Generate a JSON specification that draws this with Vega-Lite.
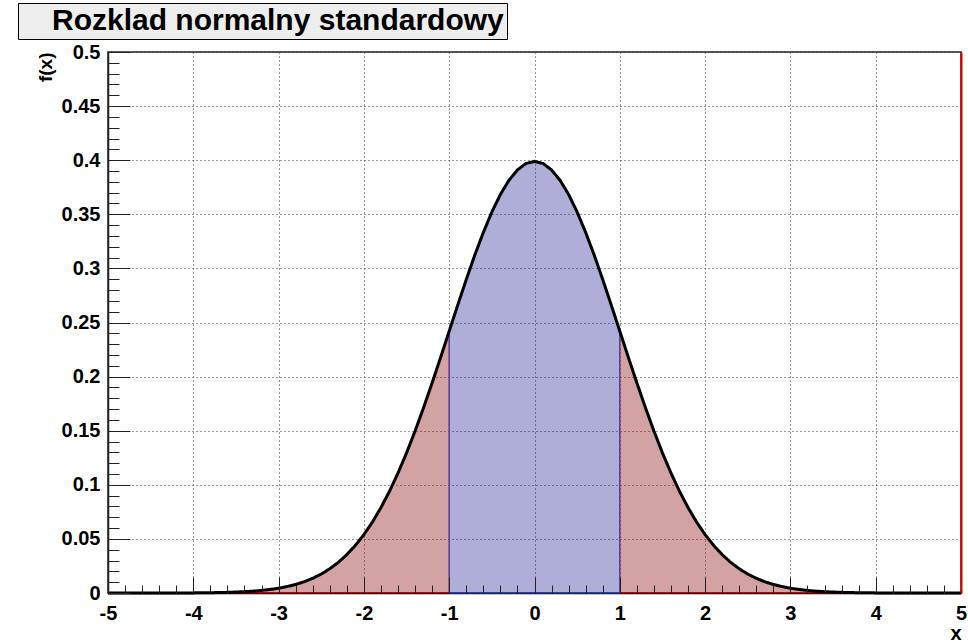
{
  "$schema": "https://vega.github.io/schema/vega-lite/v6.json",
  "background": "white",
  "autosize": {"type": "none"},
  "padding": {"left": 108, "top": 52, "right": 7, "bottom": 49},
  "width": 853,
  "height": 541,
  "config": {"font": "Liberation Sans", "axis": {"labelFont": "Liberation Sans", "titleFont": "Liberation Sans"}, "legend": {"labelFont": "Liberation Sans"}},
  "view": {"stroke": "#222222", "strokeWidth": 1.5},
  "data": {
    "values": [
      {"x": -5.0, "f": 0.0}, {"x": -4.9, "f": 0.0}, {"x": -4.8, "f": 0.0}, {"x": -4.7, "f": 0.0}, {"x": -4.6, "f": 0.0},
      {"x": -4.5, "f": 0.0}, {"x": -4.4, "f": 0.0}, {"x": -4.3, "f": 0.0}, {"x": -4.2, "f": 0.0001}, {"x": -4.1, "f": 0.0001},
      {"x": -4.0, "f": 0.0001}, {"x": -3.9, "f": 0.0002}, {"x": -3.8, "f": 0.0003}, {"x": -3.7, "f": 0.0004}, {"x": -3.6, "f": 0.0006},
      {"x": -3.5, "f": 0.0009}, {"x": -3.4, "f": 0.0012}, {"x": -3.3, "f": 0.0017}, {"x": -3.2, "f": 0.0024}, {"x": -3.1, "f": 0.0033},
      {"x": -3.0, "f": 0.0044}, {"x": -2.9, "f": 0.006}, {"x": -2.8, "f": 0.0079}, {"x": -2.7, "f": 0.0104}, {"x": -2.6, "f": 0.0136},
      {"x": -2.5, "f": 0.0175}, {"x": -2.4, "f": 0.0224}, {"x": -2.3, "f": 0.0283}, {"x": -2.2, "f": 0.0355}, {"x": -2.1, "f": 0.044},
      {"x": -2.0, "f": 0.054}, {"x": -1.9, "f": 0.0656}, {"x": -1.8, "f": 0.079}, {"x": -1.7, "f": 0.094}, {"x": -1.6, "f": 0.1109},
      {"x": -1.5, "f": 0.1295}, {"x": -1.4, "f": 0.1497}, {"x": -1.3, "f": 0.1714}, {"x": -1.2, "f": 0.1942}, {"x": -1.1, "f": 0.2179},
      {"x": -1.0, "f": 0.242}, {"x": -0.9, "f": 0.2661}, {"x": -0.8, "f": 0.2897}, {"x": -0.7, "f": 0.3123}, {"x": -0.6, "f": 0.3332},
      {"x": -0.5, "f": 0.3521}, {"x": -0.4, "f": 0.3683}, {"x": -0.3, "f": 0.3814}, {"x": -0.2, "f": 0.391}, {"x": -0.1, "f": 0.397},
      {"x": 0.0, "f": 0.3989},
      {"x": 0.1, "f": 0.397}, {"x": 0.2, "f": 0.391}, {"x": 0.3, "f": 0.3814}, {"x": 0.4, "f": 0.3683}, {"x": 0.5, "f": 0.3521},
      {"x": 0.6, "f": 0.3332}, {"x": 0.7, "f": 0.3123}, {"x": 0.8, "f": 0.2897}, {"x": 0.9, "f": 0.2661}, {"x": 1.0, "f": 0.242},
      {"x": 1.1, "f": 0.2179}, {"x": 1.2, "f": 0.1942}, {"x": 1.3, "f": 0.1714}, {"x": 1.4, "f": 0.1497}, {"x": 1.5, "f": 0.1295},
      {"x": 1.6, "f": 0.1109}, {"x": 1.7, "f": 0.094}, {"x": 1.8, "f": 0.079}, {"x": 1.9, "f": 0.0656}, {"x": 2.0, "f": 0.054},
      {"x": 2.1, "f": 0.044}, {"x": 2.2, "f": 0.0355}, {"x": 2.3, "f": 0.0283}, {"x": 2.4, "f": 0.0224}, {"x": 2.5, "f": 0.0175},
      {"x": 2.6, "f": 0.0136}, {"x": 2.7, "f": 0.0104}, {"x": 2.8, "f": 0.0079}, {"x": 2.9, "f": 0.006}, {"x": 3.0, "f": 0.0044},
      {"x": 3.1, "f": 0.0033}, {"x": 3.2, "f": 0.0024}, {"x": 3.3, "f": 0.0017}, {"x": 3.4, "f": 0.0012}, {"x": 3.5, "f": 0.0009},
      {"x": 3.6, "f": 0.0006}, {"x": 3.7, "f": 0.0004}, {"x": 3.8, "f": 0.0003}, {"x": 3.9, "f": 0.0002}, {"x": 4.0, "f": 0.0001},
      {"x": 4.1, "f": 0.0001}, {"x": 4.2, "f": 0.0001}, {"x": 4.3, "f": 0.0}, {"x": 4.4, "f": 0.0}, {"x": 4.5, "f": 0.0},
      {"x": 4.6, "f": 0.0}, {"x": 4.7, "f": 0.0}, {"x": 4.8, "f": 0.0}, {"x": 4.9, "f": 0.0}, {"x": 5.0, "f": 0.0}
    ]
  },
  "layer": [
    {
      "transform": [{"filter": "datum.x <= -1"}],
      "mark": {"type": "area", "fill": "#8b0a0a", "fillOpacity": 0.38, "stroke": "#cc0000", "strokeWidth": 1},
      "encoding": {
        "x": {
          "field": "x", "type": "quantitative",
          "scale": {"domain": [-5, 5], "nice": false, "zero": false},
          "axis": {
            "values": [-5, -4, -3, -2, -1, 0, 1, 2, 3, 4, 5],
            "labelExpr": "'' + datum.value",
            "title": "x", "titleAnchor": "end", "titleAlign": "right", "titleFontSize": 20, "titleFontWeight": "bold", "titleColor": "#000000", "titlePadding": 0,
            "ticks": false, "labelFontSize": 20, "labelFontWeight": "bold", "labelColor": "#000000", "labelPadding": 10,
            "labelFlush": false, "labelOverlap": false, "labelBound": false,
            "domainColor": "#000000", "domainWidth": 1.5,
            "grid": true, "gridColor": "#333333", "gridDash": [1, 3], "gridWidth": 1
          }
        },
        "y": {
          "field": "f", "type": "quantitative",
          "scale": {"domain": [0, 0.5], "nice": false},
          "axis": {
            "values": [0, 0.05, 0.1, 0.15, 0.2, 0.25, 0.3, 0.35, 0.4, 0.45, 0.5],
            "labelExpr": "'' + datum.value",
            "title": "f(x)", "titleAnchor": "end", "titleFontSize": 19, "titleFontWeight": "bold", "titleColor": "#000000",
            "titleX": -63, "titleBaseline": "middle",
            "ticks": false, "labelFontSize": 20, "labelFontWeight": "bold", "labelColor": "#000000", "labelPadding": 8,
            "labelFlush": false, "labelOverlap": false, "labelBound": false,
            "domainColor": "#222222", "domainWidth": 1.5,
            "grid": true, "gridColor": "#333333", "gridDash": [1, 3], "gridWidth": 1
          }
        }
      }
    },
    {
      "transform": [{"filter": "datum.x >= 1"}],
      "mark": {"type": "area", "fill": "#8b0a0a", "fillOpacity": 0.38, "stroke": "#cc0000", "strokeWidth": 1},
      "encoding": {
        "x": {"field": "x", "type": "quantitative", "axis": null},
        "y": {"field": "f", "type": "quantitative", "axis": null}
      }
    },
    {
      "transform": [{"filter": "datum.x >= -1 && datum.x <= 1"}],
      "mark": {"type": "area", "fill": "#1e1e96", "fillOpacity": 0.36, "stroke": "#3344cc", "strokeWidth": 1},
      "encoding": {
        "x": {
          "field": "x", "type": "quantitative",
          "axis": {
            "orient": "top", "offset": -541, "zindex": 1,
            "values": [-5, -4.8, -4.6, -4.4, -4.2, -4, -3.8, -3.6, -3.4, -3.2, -3, -2.8, -2.6, -2.4, -2.2, -2, -1.8, -1.6, -1.4, -1.2, -1, -0.8, -0.6, -0.4, -0.2, 0, 0.2, 0.4, 0.6, 0.8, 1, 1.2, 1.4, 1.6, 1.8, 2, 2.2, 2.4, 2.6, 2.8, 3, 3.2, 3.4, 3.6, 3.8, 4, 4.2, 4.4, 4.6, 4.8, 5],
            "labels": false, "domain": false, "grid": false, "title": null,
            "tickColor": "#222222", "tickWidth": 1,
            "tickSize": {"condition": {"test": "abs(datum.value - round(datum.value)) < 0.001", "value": 16}, "value": 8}
          }
        },
        "y": {
          "field": "f", "type": "quantitative",
          "axis": {
            "orient": "right", "offset": -853, "zindex": 1,
            "values": [0, 0.01, 0.02, 0.03, 0.04, 0.05, 0.06, 0.07, 0.08, 0.09, 0.1, 0.11, 0.12, 0.13, 0.14, 0.15, 0.16, 0.17, 0.18, 0.19, 0.2, 0.21, 0.22, 0.23, 0.24, 0.25, 0.26, 0.27, 0.28, 0.29, 0.3, 0.31, 0.32, 0.33, 0.34, 0.35, 0.36, 0.37, 0.38, 0.39, 0.4, 0.41, 0.42, 0.43, 0.44, 0.45, 0.46, 0.47, 0.48, 0.49, 0.5],
            "labels": false, "domain": false, "grid": false, "title": null,
            "tickColor": "#222222", "tickWidth": 1,
            "tickSize": {"condition": {"test": "abs(datum.value * 20 - round(datum.value * 20)) < 0.001", "value": 22}, "value": 11}
          }
        }
      }
    },
    {
      "mark": {"type": "line", "stroke": "#000000", "strokeWidth": 3},
      "encoding": {
        "x": {"field": "x", "type": "quantitative", "axis": null},
        "y": {
          "field": "f", "type": "quantitative",
          "axis": {"orient": "right", "zindex": 1, "labels": false, "ticks": false, "grid": false, "title": null, "domainColor": "#dd0000", "domainWidth": 2}
        },
        "strokeDash": {
          "datum": "Rozklad normalny standardowy",
          "scale": {"range": [[1, 0]]},
          "legend": {
            "orient": "none", "legendX": -90, "legendY": -49, "title": null,
            "fillColor": "#eeeeee", "strokeColor": "#000000", "padding": 3, "cornerRadius": 0,
            "symbolSize": 0, "symbolStrokeWidth": 0, "symbolOpacity": 0,
            "labelOffset": 1, "labelFontSize": 30, "labelFontWeight": "bold", "labelColor": "#000000", "labelLimit": 1000
          }
        }
      }
    }
  ],
  "resolve": {"axis": {"x": "independent", "y": "independent"}}
}
